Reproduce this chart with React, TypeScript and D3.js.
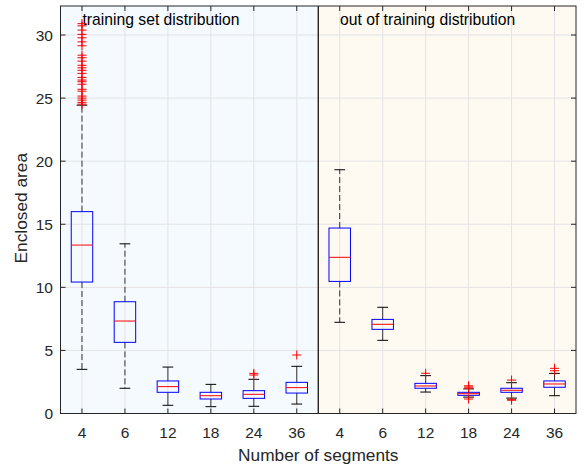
import * as d3 from "d3";

// one entry per box, left half = training set, right half = out of training
const segLabels = ["4", "6", "12", "18", "24", "36", "4", "6", "12", "18", "24", "36"];
const q1 = [10.42, 5.64, 1.68, 1.15, 1.2, 1.62, 10.47, 6.67, 2.0, 1.44, 1.68, 2.08];
const medians = [13.35, 7.33, 2.13, 1.41, 1.52, 2.05, 12.38, 7.07, 2.18, 1.57, 1.84, 2.34];
const q3 = [16.0, 8.86, 2.58, 1.68, 1.81, 2.47, 14.7, 7.46, 2.39, 1.68, 2.0, 2.58];
const whiskerLow = [3.5, 2.0, 0.65, 0.54, 0.57, 0.75, 7.23, 5.8, 1.7, 1.3, 1.22, 1.41];
const whiskerHigh = [24.44, 13.45, 3.68, 2.31, 2.71, 3.74, 19.32, 8.42, 3.0, 1.95, 2.44, 3.18];
const outliers = [
  [30.9, 30.73, 30.39, 30.05, 29.78, 29.46, 29.15, 28.4, 28.2, 27.93, 27.6, 27.4, 27.2,
    26.96, 26.64, 26.43, 26.3, 26.1, 25.7, 25.55, 25.16, 25.0, 24.84, 24.66, 24.52],
  [],
  [],
  [],
  [3.18, 3.05],
  [4.64],
  [],
  [],
  [3.19],
  [2.2, 2.1, 2.02, 1.15],
  [2.65, 1.12, 1.05],
  [3.58, 3.39],
];
const yTicks = [0, 5, 10, 15, 20, 25, 30];
const regionTitles = ["training set distribution", "out of training distribution"];

const width = 583;
const height = 468;
const marginLeft = 60.5;
const marginRight = 7;
const marginTop = 6;
const marginBottom = 54.5;
const font = "'Liberation Sans', Arial, Helvetica, sans-serif";
const ink = "#262626";

const App = () => {
  const idx = segLabels.map((_, i) => i);
  const xScale = d3
    .scalePoint<number>()
    .domain(idx)
    .range([marginLeft, width - marginRight])
    .padding(0.5);
  const yScale = d3
    .scaleLinear()
    .domain([0, 32.3])
    .range([height - marginBottom, marginTop]);

  const step = xScale.step();
  const boxW = step * 0.5;
  const capW = boxW * 0.5;
  const x0 = marginLeft;
  const x1 = width - marginRight;
  const y0 = height - marginBottom;
  const y1 = marginTop;
  const xMid = (x0 + x1) / 2;

  return (
    <svg
      width={width}
      height={height}
      style={{ position: "absolute", left: 0, top: 0, fontFamily: font }}
    >
      <rect x={x0} y={y1} width={xMid - x0} height={y0 - y1} fill="#f5faff" />
      <rect x={xMid} y={y1} width={x1 - xMid} height={y0 - y1} fill="#fefaf2" />

      {/* grid */}
      {yTicks.map((t) => (
        <line key={"gy" + t} x1={x0} x2={x1} y1={yScale(t)} y2={yScale(t)} stroke="#e3e3e3" strokeWidth={1} />
      ))}
      {idx.map((i) => (
        <line key={"gx" + i} x1={xScale(i)} x2={xScale(i)} y1={y0} y2={y1} stroke="#e3e3e3" strokeWidth={1} />
      ))}

      <line x1={xMid} x2={xMid} y1={y0} y2={y1} stroke="#000" strokeWidth={1.2} />

      {regionTitles.map((t, k) => (
        <text key={t} x={k === 0 ? 82.5 : 340} y={25} fontSize={15.7} fill="#000">
          {t}
        </text>
      ))}

      {/* boxes */}
      {idx.map((i) => {
        const cx = xScale(i) as number;
        const lo = whiskerLow[i];
        const hi = whiskerHigh[i];
        const upLen = yScale(q3[i]) - yScale(hi);
        const dnLen = yScale(lo) - yScale(q1[i]);
        return (
          <g key={"b" + i}>
            <line
              x1={cx} x2={cx} y1={yScale(q3[i])} y2={yScale(hi)}
              stroke="#333" strokeWidth={1}
              strokeDasharray={upLen > 20 ? "6,3" : undefined}
            />
            <line
              x1={cx} x2={cx} y1={yScale(q1[i])} y2={yScale(lo)}
              stroke="#333" strokeWidth={1}
              strokeDasharray={dnLen > 20 ? "6,3" : undefined}
            />
            <line x1={cx - capW / 2} x2={cx + capW / 2} y1={yScale(hi)} y2={yScale(hi)} stroke="#000" strokeWidth={1} />
            <line x1={cx - capW / 2} x2={cx + capW / 2} y1={yScale(lo)} y2={yScale(lo)} stroke="#000" strokeWidth={1} />
            <rect
              x={cx - boxW / 2}
              y={yScale(q3[i])}
              width={boxW}
              height={yScale(q1[i]) - yScale(q3[i])}
              fill="none"
              stroke="#0000ff"
              strokeWidth={1}
            />
            <line
              x1={cx - boxW / 2} x2={cx + boxW / 2}
              y1={yScale(medians[i])} y2={yScale(medians[i])}
              stroke="#ff0000" strokeWidth={1}
            />
            {outliers[i].map((v, j) => (
              <path
                key={j}
                d={`M${cx - 4.5},${yScale(v)}H${cx + 4.5}M${cx},${yScale(v) - 4.5}V${yScale(v) + 4.5}`}
                stroke="#ff0000"
                strokeWidth={1}
                fill="none"
              />
            ))}
          </g>
        );
      })}

      {/* axes box and ticks */}
      <rect x={x0} y={y1} width={x1 - x0} height={y0 - y1} fill="none" stroke={ink} strokeWidth={1} />
      {yTicks.map((t) => (
        <g key={"ty" + t}>
          <line x1={x0} x2={x0 + 5} y1={yScale(t)} y2={yScale(t)} stroke={ink} />
          <line x1={x1} x2={x1 - 5} y1={yScale(t)} y2={yScale(t)} stroke={ink} />
          <text x={x0 - 7.5} y={yScale(t)} dy="0.36em" textAnchor="end" fontSize={15.5} fill={ink}>
            {t}
          </text>
        </g>
      ))}
      {idx.map((i) => (
        <g key={"tx" + i}>
          <line x1={xScale(i)} x2={xScale(i)} y1={y0} y2={y0 - 5} stroke={ink} />
          <line x1={xScale(i)} x2={xScale(i)} y1={y1} y2={y1 + 5} stroke={ink} />
          <text x={xScale(i)} y={y0 + 24} textAnchor="middle" fontSize={15.5} fill={ink}>
            {segLabels[i]}
          </text>
        </g>
      ))}

      <text x={(x0 + x1) / 2} y={y0 + 47} textAnchor="middle" fontSize={17.3} fill={ink}>
        Number of segments
      </text>
      <text
        transform={`translate(27, ${(y0 + y1) / 2 - 1.5}) rotate(-90)`}
        textAnchor="middle"
        fontSize={17.3}
        fill={ink}
      >
        Enclosed area
      </text>
    </svg>
  );
};

export default App;
